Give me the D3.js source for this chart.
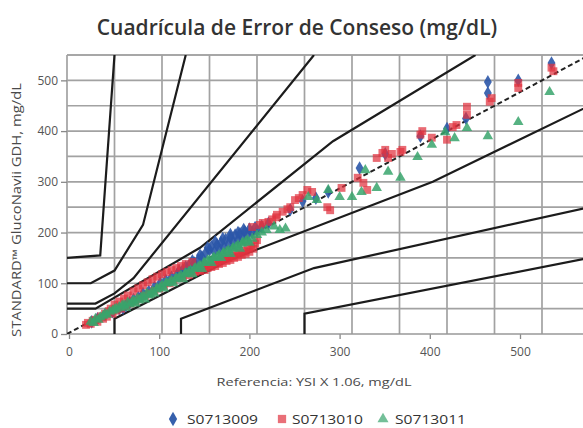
<!DOCTYPE html>
<html>
<head>
<meta charset="utf-8">
<script src="https://cdn.jsdelivr.net/npm/d3@7"></script>
<style>
body { margin: 0; background: #fff; }
svg { display: block; font-family: 'Open Sans', sans-serif; }
</style>
</head>
<body>
<svg id="chart" width="583" height="428"></svg>
<script>
const chartTitle = 'Cuadrícula de Error de Conseso (mg/dL)'
const xTitle = 'Referencia: YSI X 1.06, mg/dL'
const yTitle = 'STANDARD™ GlucoNavii GDH, mg/dL'

const tickLabels = [0, 100, 200, 300, 400, 500]
const gridValues = [50, 100, 150, 200, 250, 300, 350, 400, 450, 500, 550]

// consensus (Parkes) error grid boundaries
const zoneAUpper = [[0, 50], [30, 50], [140, 170], [280, 380], [430, 550]]
const zoneALower = [[50, 0], [50, 30], [170, 145], [385, 300], [550, 450]]
const zoneBUpper = [[0, 60], [30, 60], [50, 80], [70, 110], [260, 550]]
const zoneBLower = [[120, 0], [120, 30], [260, 130], [550, 250]]
const zoneCUpper = [[0, 100], [25, 100], [50, 125], [80, 215], [125, 550]]
const zoneCLower = [[250, 0], [250, 40], [550, 150]]
const zoneDUpper = [[0, 150], [35, 155], [50, 550]]
const identity = [[0, 0], [550, 550]]

const seriesNames = ['S0713009', 'S0713010', 'S0713011']

const s0713009 = [[26,24],[32,30],[40,38],[48,44],[55,50],[59,51],[62,56],[66,62],[70,68],[75,72],[80,80],
	[86,84],[92,92],[98,100],[104,106],[110,112],[116,118],[122,126],[128,134],[134,140],[138,146],[142,152],
	[146,160],[150,166],[152,172],[155,162],[158,176],[160,168],[162,180],[165,172],[167,186],[170,178],
	[172,190],[175,182],[177,195],[180,186],[182,198],[185,190],[187,202],[190,196],[192,207],[195,200],
	[198,210],[200,204],[148,170],[156,182],[164,188],[172,196],[180,200],[186,206],[140,155],[132,144],
	[125,132],[118,124],[205,212],[212,218],[235,245],[248,262],[262,268],[275,280],[308,327],[335,355],
	[372,390],[400,405],[420,425],[443,497],[443,475],[475,500],[510,534]]

const s0713010 = [[20,18],[22,22],[25,20],[27,26],[30,28],[32,24],[34,31],[36,35],[38,30],[40,40],[42,34],
	[44,45],[46,50],[48,40],[50,58],[52,46],[55,64],[57,50],[60,70],[62,55],[64,76],[67,60],[70,84],[72,65],
	[75,90],[77,70],[80,96],[82,75],[85,102],[87,80],[90,108],[92,85],[95,113],[97,90],[100,118],[102,95],
	[105,122],[108,100],[110,126],[112,105],[115,130],[118,110],[120,134],[122,112],[125,138],[128,116],
	[130,120],[132,142],[135,122],[138,126],[140,124],[142,130],[145,126],[146,134],[148,130],[150,136],
	[152,132],[154,140],[156,134],[158,142],[160,138],[162,146],[164,140],[166,148],[168,144],[170,150],
	[172,146],[174,154],[176,150],[178,158],[180,152],[182,160],[184,156],[186,164],[188,158],[190,168],
	[192,162],[194,172],[196,168],[198,178],[200,185],[195,211],[203,215],[206,219],[212,221],[216,226],
	[220,230],[227,241],[221,235],[232,246],[235,250],[240,264],[244,268],[248,274],[253,284],[258,280],
	[274,250],[277,244],[289,288],[306,308],[312,298],[316,284],[326,347],[332,357],[338,347],[335,363],
	[342,355],[351,359],[353,363],[372,393],[374,400],[384,387],[400,383],[406,408],[410,412],[421,448],
	[421,432],[445,458],[447,465],[475,495],[475,485],[510,525],[512,518]]

const s0713011 = [[25,24],[28,22],[30,30],[33,28],[35,33],[38,36],[40,40],[42,38],[45,44],[48,46],[50,48],
	[52,50],[55,53],[58,56],[60,57],[62,52],[64,62],[66,58],[68,62],[70,66],[72,60],[74,70],[76,66],[78,72],
	[80,74],[82,68],[84,80],[86,76],[88,78],[90,84],[92,80],[94,88],[95,90],[98,92],[100,96],[102,90],
	[104,100],[105,100],[108,102],[110,105],[112,100],[114,108],[115,110],[118,112],[120,115],[122,108],
	[124,118],[125,120],[128,122],[130,125],[132,118],[134,128],[135,130],[138,132],[140,135],[142,128],
	[144,140],[145,140],[148,145],[150,145],[152,140],[154,150],[155,150],[158,152],[160,155],[162,150],
	[164,158],[165,160],[168,162],[170,165],[172,158],[174,168],[175,170],[178,172],[180,175],[182,168],
	[184,178],[185,180],[188,182],[190,185],[192,180],[195,188],[200,195],[205,200],[210,205],[218,212],
	[224,205],[230,208],[254,270],[263,264],[275,284],[287,270],[300,270],[310,280],[314,323],[326,288],
	[338,320],[351,308],[369,349],[384,373],[398,398],[408,386],[421,406],[443,390],[475,418],[508,477]]

const colors = ['#2b57a8', '#e0323f', '#38a46c']

const svg = d3.select('#chart')
const plot = {left: 67, top: 55, bottom: 334}

const x = d3.scaleLinear().domain([0, 550]).range([plot.left, plot.left + 0.95 * 550])
const y = d3.scaleLinear().domain([0, 550]).range([plot.bottom, plot.top])
// the printed x labels sit on a slightly tighter spacing than the grid
const xLabel = d3.scaleLinear().domain([0, 500]).range([69, 520])

svg.append('clipPath').attr('id', 'clip')
	.append('rect').attr('x', plot.left).attr('y', plot.top)
	.attr('width', 583 - plot.left).attr('height', plot.bottom - plot.top)

// title
svg.append('text').attr('x', 297).attr('y', 35).attr('text-anchor', 'middle')
	.attr('font-size', 21).attr('font-weight', 600).attr('fill', '#333').text(chartTitle)

// grid
const grid = svg.append('g').attr('stroke', '#a2a2a2').attr('stroke-width', 1.7)
grid.selectAll('.gx').data(gridValues).join('line')
	.attr('x1', d => x(d)).attr('x2', d => x(d)).attr('y1', plot.top).attr('y2', plot.bottom)
grid.selectAll('.gy').data(gridValues).join('line')
	.attr('y1', d => y(d)).attr('y2', d => y(d)).attr('x1', plot.left).attr('x2', 583)
grid.append('line').attr('x1', plot.left).attr('x2', plot.left).attr('y1', plot.top).attr('y2', plot.bottom)
grid.append('line').attr('x1', plot.left).attr('x2', 583).attr('y1', plot.top).attr('y2', plot.top)

// axes
const xAxis = svg.append('g').attr('transform', `translate(0,${plot.bottom})`)
	.call(d3.axisBottom(xLabel).tickValues(tickLabels).tickSize(5).tickPadding(8))
xAxis.select('.domain').remove()
const yAxis = svg.append('g').attr('transform', `translate(${plot.left},0)`)
	.call(d3.axisLeft(y).tickValues(tickLabels).tickSize(6).tickPadding(3))
yAxis.select('.domain').remove()
svg.append('line').attr('x1', plot.left).attr('x2', 583).attr('y1', plot.bottom).attr('y2', plot.bottom)
	.attr('stroke', '#999').attr('stroke-width', 1.5)
svg.selectAll('.tick line').attr('stroke', '#888').attr('stroke-width', 1.3)
svg.selectAll('.tick text').attr('font-size', 12).attr('fill', '#555')
	.attr('font-family', "'Open Sans', sans-serif")

svg.append('text').attr('x', 314).attr('y', 386).attr('text-anchor', 'middle')
	.attr('font-size', 11.5).attr('fill', '#4a4a4a')
	.attr('textLength', 195).attr('lengthAdjust', 'spacingAndGlyphs').text(xTitle)
svg.append('text').attr('transform', 'translate(21,210) rotate(-90)').attr('text-anchor', 'middle')
	.attr('font-size', 12).attr('fill', '#4a4a4a')
	.attr('textLength', 254).attr('lengthAdjust', 'spacingAndGlyphs').text(yTitle)

// zone boundaries
const line = d3.line().x(d => x(d[0])).y(d => y(d[1]))
const zones = svg.append('g').attr('clip-path', 'url(#clip)')
zones.selectAll('path')
	.data([zoneAUpper, zoneALower, zoneBUpper, zoneBLower, zoneCUpper, zoneCLower, zoneDUpper])
	.join('path').attr('d', line).attr('fill', 'none').attr('stroke', '#1c1c1c').attr('stroke-width', 2.2)
zones.append('path').datum(identity).attr('d', line).attr('fill', 'none')
	.attr('stroke', '#222').attr('stroke-width', 2).attr('stroke-dasharray', '5,3')

// points
const pts = svg.append('g').attr('clip-path', 'url(#clip)')
const symbols = [d3.symbolDiamond, d3.symbolSquare, d3.symbolTriangle]
const sizes = [54, 62, 48]
const opac = [0.9, 0.72, 0.85]
;[s0713009, s0713010, s0713011].forEach((data, i) => {
	pts.append('g').selectAll('path').data(data).join('path')
		.attr('transform', d => `translate(${x(d[0])},${y(d[1])})`)
		.attr('d', d3.symbol(symbols[i], sizes[i]))
		.attr('fill', colors[i]).attr('fill-opacity', opac[i])
})

// legend
const legendX = [173, 282, 383]
const legendTextX = [187, 292, 395]
const legend = svg.append('g')
seriesNames.forEach((name, i) => {
	legend.append('path').attr('transform', `translate(${legendX[i]},419)`)
		.attr('d', d3.symbol(symbols[i], sizes[i] * 1.1)).attr('fill', colors[i]).attr('fill-opacity', i == 0 ? 0.95 : 0.7)
	legend.append('text').attr('x', legendTextX[i]).attr('y', 424)
		.attr('font-size', 12.5).attr('fill', '#333')
		.attr('textLength', 71).attr('lengthAdjust', 'spacingAndGlyphs').text(name)
})
</script>
</body>
</html>
